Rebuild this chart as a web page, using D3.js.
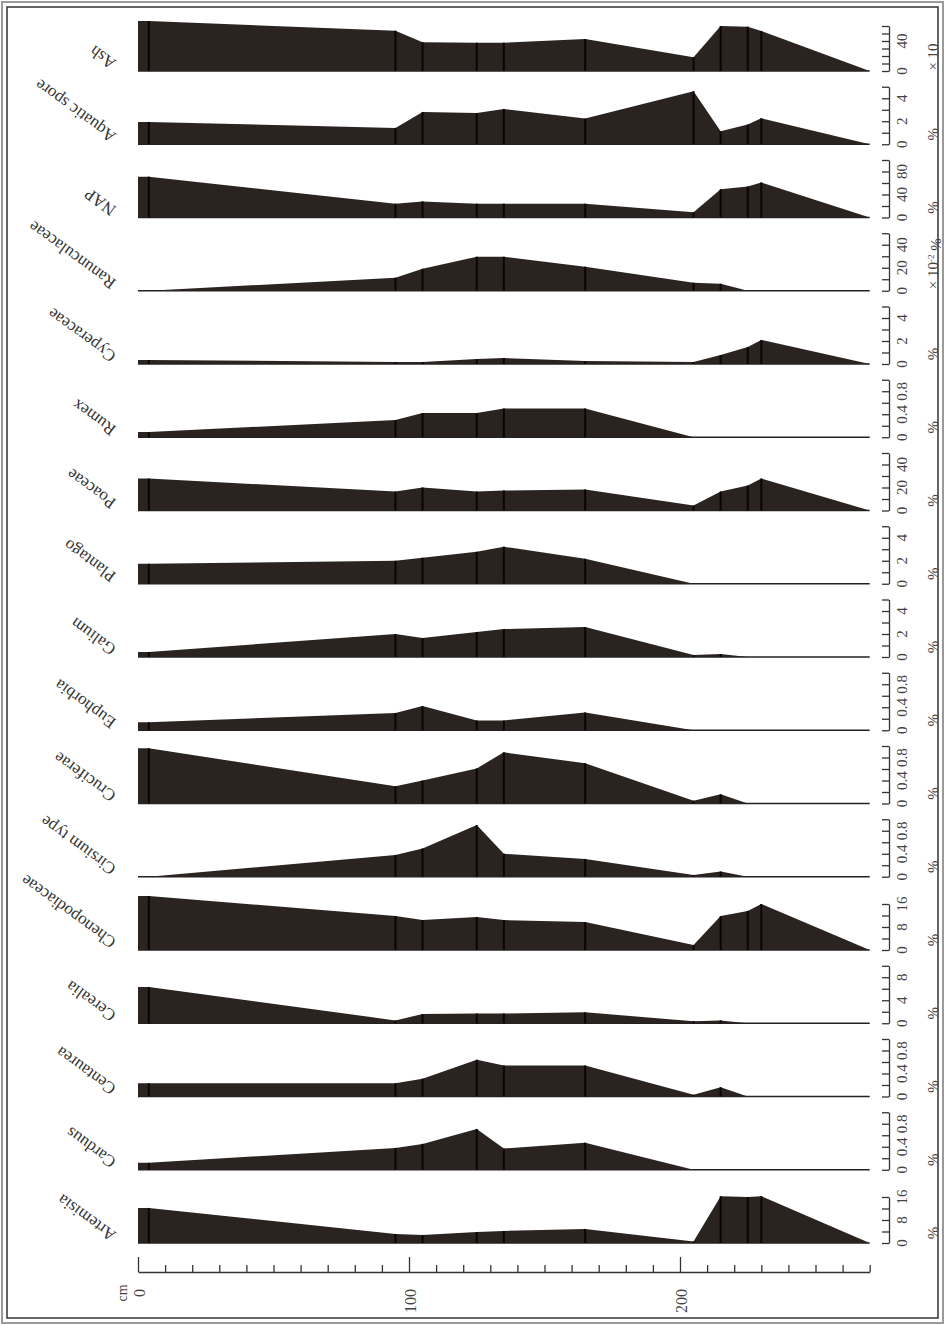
<!DOCTYPE html>
<html lang="en">
<head>
<meta charset="UTF-8">
<script src="https://d3js.org/d3.v7.min.js"></script>
<style>
  body { margin: 0; background: #fff; }
  svg { display: block; }
</style>
</head>
<body>
<script>
// sample depths (cm)
const depths = [0, 4, 95, 105, 125, 135, 165, 205, 215, 225, 230, 270];

// values at each depth, in the unit of each scale
const ash            = [66.7, 66.7, 53.7, 38.3, 37.7, 37.7, 42.7, 18.3, 60, 59.1, 53.3, 0];
const aquaticSpore   = [1.94, 1.94, 1.42, 2.81, 2.72, 3.07, 2.23, 4.61, 1.13, 1.71, 2.26, 0];
const nap            = [71, 71, 24, 28, 24, 24, 24, 9, 49, 54, 61, 0];
const ranunculaceae  = [0, 0, 11.3, 19.1, 29.6, 29.6, 20.9, 7, 6.1, 0, 0, 0];
const cyperaceae     = [0.35, 0.35, 0.17, 0.17, 0.43, 0.52, 0.26, 0.17, 0.78, 1.48, 2.09, 0];
const rumex          = [0.09, 0.09, 0.3, 0.42, 0.42, 0.5, 0.5, 0, 0, 0, 0, 0];
const poaceae        = [27.8, 27.8, 16.5, 20, 16.5, 17.4, 18.3, 4.3, 16.5, 21.7, 27.8, 0];
const plantago       = [1.74, 1.74, 2, 2.26, 2.78, 3.22, 2.17, 0, 0, 0, 0, 0];
const galium         = [0.43, 0.43, 2, 1.65, 2.17, 2.43, 2.61, 0.17, 0.26, 0, 0, 0];
const euphorbia      = [0.14, 0.14, 0.3, 0.42, 0.17, 0.17, 0.31, 0, 0, 0, 0, 0];
const cruciferae     = [0.96, 0.96, 0.3, 0.4, 0.61, 0.89, 0.7, 0.05, 0.16, 0, 0, 0];
const cirsium        = [0, 0, 0.38, 0.49, 0.9, 0.4, 0.31, 0.03, 0.09, 0, 0, 0];
const chenopodiaceae = [18.8, 18.8, 11.8, 10.4, 11.5, 10.4, 9.7, 1.7, 11.8, 13.6, 16, 0];
const cerealia       = [6.3, 6.3, 0.5, 1.6, 1.7, 1.7, 1.9, 0.35, 0.5, 0, 0, 0];
const centaurea      = [0.23, 0.23, 0.23, 0.31, 0.64, 0.54, 0.54, 0.03, 0.16, 0, 0, 0];
const carduus        = [0.12, 0.12, 0.38, 0.45, 0.71, 0.37, 0.47, 0, 0, 0, 0, 0];
const artemisia      = [12.2, 12.2, 3.1, 2.8, 3.8, 4.2, 4.9, 0.5, 16.3, 16, 16.3, 0];

// top to bottom
const names = ["Ash", "Aquatic spore", "NAP", "Ranunculaceae", "Cyperaceae", "Rumex",
  "Poaceae", "Plantago", "Galium", "Euphorbia", "Cruciferae", "Cirsium type",
  "Chenopodiaceae", "Cerealia", "Centaurea", "Carduus", "Artemisia"];
const series = [ash, aquaticSpore, nap, ranunculaceae, cyperaceae, rumex, poaceae, plantago,
  galium, euphorbia, cruciferae, cirsium, chenopodiaceae, cerealia, centaurea, carduus, artemisia];
// scale: top value, tick step, labelled ticks, unit
const scaleMax   = [60, 5, 100, 50, 5, 1, 50, 5, 5, 1, 1, 1, 16, 10, 1, 1, 16];
const scaleStep  = [10, 1, 20, 10, 1, 0.2, 10, 1, 1, 0.2, 0.2, 0.2, 4, 2, 0.2, 0.2, 4];
const scaleLabels = [[0, 40], [0, 2, 4], [0, 40, 80], [0, 20, 40], [0, 2, 4], [0, 0.4, 0.8],
  [0, 20, 40], [0, 2, 4], [0, 2, 4], [0, 0.4, 0.8], [0, 0.4, 0.8], [0, 0.4, 0.8],
  [0, 8, 16], [0, 4, 8], [0, 0.4, 0.8], [0, 0.4, 0.8], [0, 8, 16]];
const units = ["× 10", "%", "%", "× 10-2 %", "%", "%", "%", "%", "%", "%", "%", "%", "%", "%", "%", "%", "%"];
const depthLabels = [0, 100, 200];

const W = 945, H = 1325;
const fill = "#2b2320";
const serif = "'Liberation Serif', 'DejaVu Serif', serif";

const svg = d3.select("body").append("svg").attr("width", W).attr("height", H);

// frame
svg.append("rect").attr("x", 2).attr("y", 2).attr("width", W - 4).attr("height", H - 4)
  .attr("fill", "none").attr("stroke", "#9a9a9a").attr("stroke-width", 2);
svg.append("rect").attr("x", 7).attr("y", 7).attr("width", W - 14).attr("height", H - 14)
  .attr("fill", "none").attr("stroke", "#333").attr("stroke-width", 1.5);

const x = d3.scaleLinear().domain([0, 270]).range([138, 869.7]);
const base = d3.scalePoint().domain(names).range([71, 1243]);

names.forEach(function (name, i) {
  let b = base(name);
  let stepPx = i === 0 ? 7.5 : 11.5;
  let y = d3.scaleLinear().domain([0, scaleMax[i]])
    .range([b, b - stepPx * scaleMax[i] / scaleStep[i]]);
  let pts = depths.map((d, j) => ({ depth: d, v: series[i][j] }));
  let g = svg.append("g");

  // baseline
  g.append("line").attr("x1", x(0)).attr("x2", x(270)).attr("y1", b).attr("y2", b)
    .attr("stroke", "#222").attr("stroke-width", 1.5);

  g.append("path").datum(pts)
    .attr("fill", fill)
    .attr("d", d3.area().x(d => x(d.depth)).y0(b).y1(d => y(d.v)));

  // sample lines
  g.selectAll(".s").data(pts.filter((d, j) => j > 0 && d.depth < 270 && d.v > 0))
    .join("line")
    .attr("x1", d => x(d.depth)).attr("x2", d => x(d.depth))
    .attr("y1", b).attr("y2", d => y(d.v))
    .attr("stroke", "#080605").attr("stroke-width", 2);

  // taxon name
  let lx = 117, ly = b - 10;
  g.append("text")
    .attr("x", lx).attr("y", ly)
    .attr("transform", `rotate(216, ${lx}, ${ly})`)
    .attr("font-family", serif).attr("font-size", 17).attr("fill", "#333")
    .text(name);

  // value scale
  let ticks = d3.range(0, scaleMax[i] + scaleStep[i] / 2, scaleStep[i]);
  let ax = g.append("g").attr("transform", "translate(889,0)")
    .call(d3.axisRight(y).tickValues(ticks).tickSizeInner(-7).tickSizeOuter(0).tickFormat(""));
  ax.select(".domain").attr("stroke", "#333").attr("stroke-width", 1.3);
  ax.selectAll(".tick line").attr("stroke", "#333").attr("stroke-width", 1.3);

  scaleLabels[i].forEach(function (v) {
    let ty = y(v);
    g.append("text").attr("x", 902).attr("y", ty).attr("dy", "0.35em")
      .attr("text-anchor", "middle")
      .attr("transform", `rotate(-90, 902, ${ty})`)
      .attr("font-family", serif).attr("font-size", 15).attr("fill", "#444")
      .text(v);
  });

  let u = units[i];
  let ux = 933;
  let t = g.append("text").attr("x", ux).attr("dy", "0.35em")
    .attr("text-anchor", "middle")
    .attr("font-family", serif).attr("font-size", 15).attr("fill", "#444");
  let uy;
  if (u === "× 10-2 %") {
    uy = b - 27;
    t.append("tspan").text("× 10");
    t.append("tspan").attr("dy", "-0.45em").attr("font-size", 9).text("-2");
    t.append("tspan").attr("dy", "0.45em").text(" %");
  } else if (u === "× 10") {
    uy = b - 14;
    t.text(u);
  } else {
    uy = b - 10;
    t.text(u);
  }
  t.attr("y", uy).attr("transform", `rotate(-90, ${ux}, ${uy})`);
});

// depth axis
const axisY = 1272;
const dax = svg.append("g").attr("transform", `translate(0,${axisY})`)
  .call(d3.axisTop(x).tickValues(d3.range(0, 271, 10)).tickSizeInner(7).tickSizeOuter(0).tickFormat(""));
dax.select(".domain").attr("stroke", "#333").attr("stroke-width", 1.5);
dax.selectAll(".tick line").attr("stroke", "#333").attr("stroke-width", 1.3)
  .filter(d => d % 100 === 0).attr("y2", -15);

depthLabels.forEach(function (d) {
  let tx = x(d) + 1, ty = 1289;
  svg.append("text").attr("x", tx).attr("y", ty).attr("dy", "0.35em")
    .attr("text-anchor", "end")
    .attr("transform", `rotate(-90, ${tx}, ${ty})`)
    .attr("font-family", serif).attr("font-size", 16).attr("fill", "#444")
    .text(d);
});
svg.append("text").attr("x", 122).attr("y", 1293).attr("dy", "0.35em")
  .attr("text-anchor", "middle")
  .attr("transform", "rotate(-90, 122, 1293)")
  .attr("font-family", serif).attr("font-size", 14).attr("fill", "#444")
  .text("cm");
</script>
</body>
</html>
